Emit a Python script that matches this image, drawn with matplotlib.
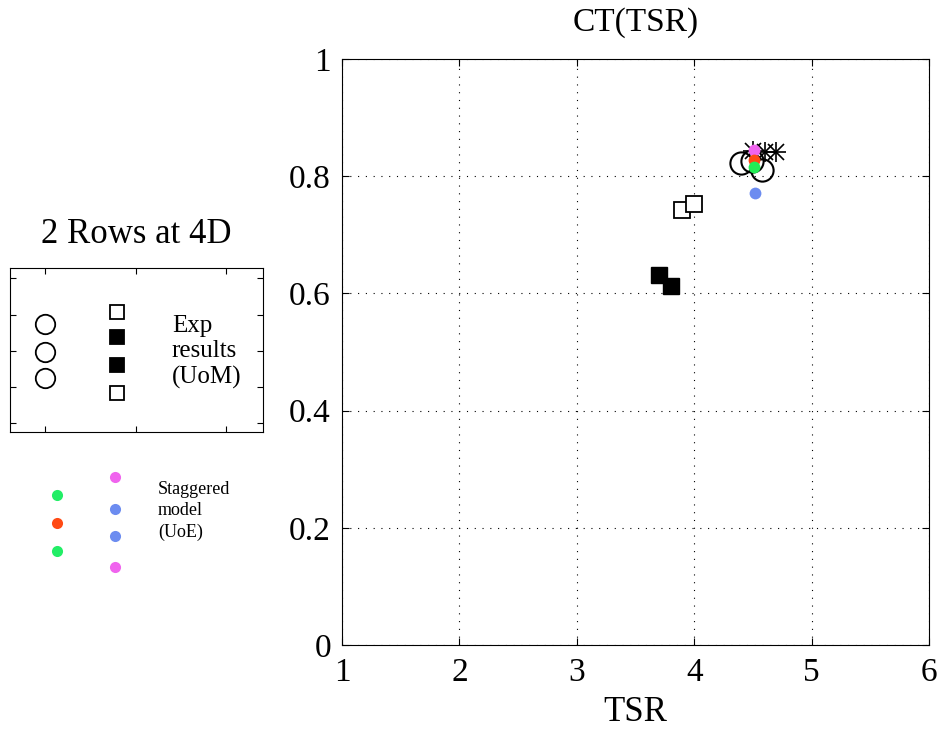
import matplotlib.pyplot as plt
import numpy as np

plt.rcParams['font.family'] = ['Liberation Serif', 'DejaVu Serif']

# --------------------------------------
# main data: CT vs TSR
circ_tsr = [4.40, 4.49, 4.58]
circ_ct = [0.822, 0.826, 0.811]

star_tsr = [4.50, 4.60, 4.70]
star_ct = [0.843, 0.841, 0.841]

open_sq_tsr = [3.90, 4.00]
open_sq_ct = [0.742, 0.752]

fill_sq_tsr = [3.70, 3.80]
fill_sq_ct = [0.631, 0.612]

dot_tsr = [4.51, 4.51, 4.51, 4.52]
dot_ct = [0.845, 0.828, 0.816, 0.771]
dot_col = ['#f064ee', '#ff4a14', '#22ee55', '#6c8cf0']

# legend layout (axes fractions inside the legend box)
leg_circ_y = [0.66, 0.49, 0.33]
leg_sq_y = [0.73, 0.58, 0.41, 0.24]
leg_sq_fill = [False, True, True, False]
leg_text = "Exp\nresults\n(UoM)"

# coloured dots below the box (pixel coords of figure)
dots_left_y = [495, 523, 551]
dots_left_col = ['#22ee66', '#ff4a14', '#22ee66']
dots_right_y = [477, 509, 536, 567]
dots_right_col = ['#f064ee', '#6c8cf0', '#6c8cf0', '#f064ee']

# --------------------------------------
fig = plt.figure(figsize=(9.41, 7.29), dpi=100, facecolor='white')

ax = fig.add_axes([342/941, 84/729, 587/941, 586/729])
ax.plot(circ_tsr, circ_ct, 'o', ms=16, mfc='none', mec='black', mew=1.5, ls='none')
# asterisk = plus + cross
ax.plot(star_tsr, star_ct, '+', ms=15, mec='black', mew=1.2, ls='none')
ax.plot(star_tsr, star_ct, 'x', ms=11, mec='black', mew=1.2, ls='none')
ax.plot(open_sq_tsr, open_sq_ct, 's', ms=11, mfc='white', mec='black', mew=1.3, ls='none')
ax.plot(fill_sq_tsr, fill_sq_ct, 's', ms=11, mfc='black', mec='black', ls='none')
for x, y, c in zip(dot_tsr, dot_ct, dot_col):
    ax.plot(x, y, 'o', ms=8.5, color=c, mec='none')

ax.set_xlim(1, 6)
ax.set_ylim(0, 1)
ax.set_xticks([1, 2, 3, 4, 5, 6])
ax.set_yticks([0, 0.2, 0.4, 0.6, 0.8, 1])
ax.set_yticklabels(['0', '0.2', '0.4', '0.6', '0.8', '1'])
ax.grid(True, color='black', linestyle=(0, (1, 6)), linewidth=0.8)
ax.tick_params(direction='in', top=True, right=True, length=5, labelsize=24)
ax.tick_params(axis='x', pad=9)
ax.tick_params(axis='y', pad=8)
ax.set_title('CT(TSR)', fontsize=24, pad=20)
ax.set_xlabel('TSR', fontsize=25, labelpad=6)

# --------------------------------------
lg = fig.add_axes([10/941, 297/729, 253/941, 164/729])
lg.set_xlim(0, 1)
lg.set_ylim(0, 1)
lg.set_xticks([0.138, 0.498, 0.854])
lg.set_yticks([0.055, 0.274, 0.494, 0.713, 0.939])
lg.set_xticklabels([])
lg.set_yticklabels([])
lg.tick_params(direction='in', top=True, right=True, length=4)
lg.plot([0.138] * len(leg_circ_y), leg_circ_y, 'o', ms=14, mfc='none', mec='black', mew=1.3)
for y, f in zip(leg_sq_y, leg_sq_fill):
    lg.plot(0.422, y, 's', ms=10.5, mfc='black' if f else 'white', mec='black', mew=1.3)
lg.text(0.64, 0.49, leg_text, fontsize=18, va='center', ha='left', linespacing=1.2)
lg.set_title('2 Rows at 4D', fontsize=25, pad=18)

# --------------------------------------
ov = fig.add_axes([0, 0, 282/941, 1])
ov.set_xlim(0, 282)
ov.set_ylim(729, 0)
ov.axis('off')
for y, c in zip(dots_left_y, dots_left_col):
    ov.plot(57, y, 'o', ms=8, color=c, mec='none')
for y, c in zip(dots_right_y, dots_right_col):
    ov.plot(115, y, 'o', ms=8, color=c, mec='none')
ov.text(158, 511, "Staggered\nmodel\n(UoE)", fontsize=13, va='center', ha='left', linespacing=1.3)

plt.savefig('out.png', dpi=100, facecolor='white')
